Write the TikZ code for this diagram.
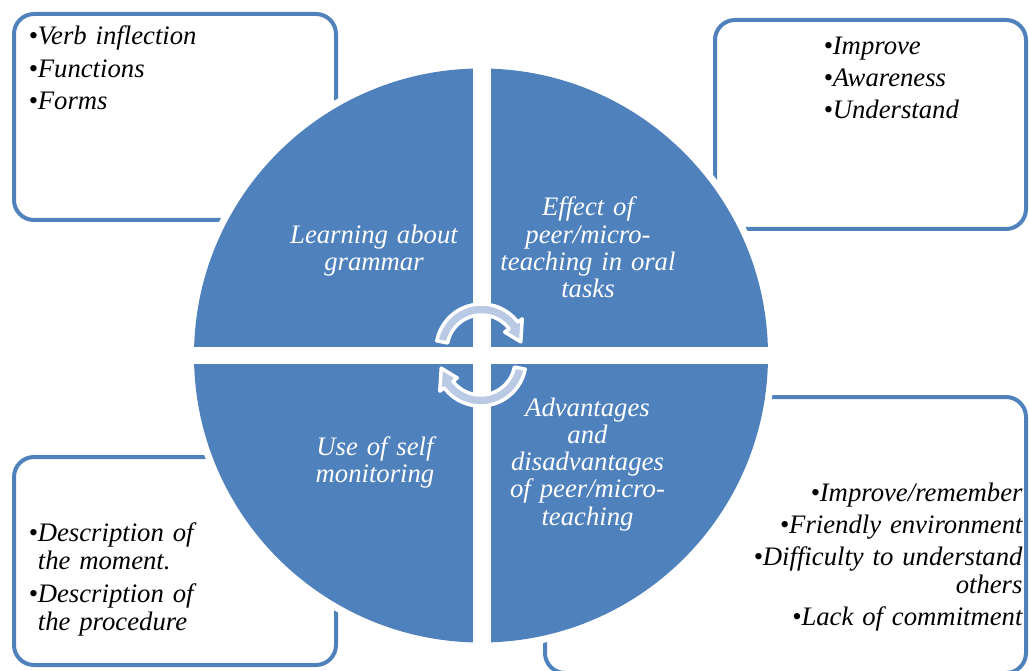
\documentclass[tikz,border=0pt]{standalone}
\usepackage{fontspec}
\setmainfont{Liberation Serif}
\usepackage{tikz}
\definecolor{quadblue}{RGB}{79,129,189}
\definecolor{arrowfill}{RGB}{186,201,228}

\begin{document}
\begin{tikzpicture}[x=1pt,y=-1pt,
   infobox/.style={draw=quadblue,line width=4pt,rounded corners=20pt,fill=white,inner sep=0pt},
   listtext/.style={font=\fontsize{26.7}{28}\selectfont\itshape,inner sep=0pt,text width=330pt},
   quadtext/.style={font=\fontsize{26.7}{27.3}\selectfont\itshape,text=white,inner sep=0pt,
      text width=220pt,align=center,anchor=base},
   cyclearrow/.style={fill=arrowfill,draw=white,line width=3.5pt,line join=round}]
\useasboundingbox (0,0) rectangle (1029,671);
\clip (0,0) rectangle (1029,671);

\node[infobox,minimum width=322pt,minimum height=206pt] (grammarbox) at (175,117) {};
\node[infobox,minimum width=311pt,minimum height=209pt] (effectbox) at (870.5,124.5) {};
\node[infobox,minimum width=322pt,minimum height=208pt] (monitorbox) at (175,561) {};
\node[infobox,minimum width=481pt,minimum height=276pt] (advantagebox) at (785.5,535) {};

\fill[white] (481,355.5) circle[radius=294];
\fill[quadblue] (481,355.5) circle[radius=287];
\fill[white] (190,347) rectangle (772,364);
\fill[white] (472.5,60) rectangle (490.5,650);

\foreach \cx/\cy/\a/\b/\t in {481.5/349.5/191/323/349, 480.5/360.5/11/143/169}
  \filldraw[cyclearrow] plot[domain=\a:\b,samples=30] ({\cx+45.5*cos(\x)},{\cy+45.5*sin(\x)})
    -- ({\cx+51*cos(\b)},{\cy+51*sin(\b)})
    -- ({\cx+40*cos(\t)},{\cy+40*sin(\t)})
    -- ({\cx+29*cos(\b)},{\cy+29*sin(\b)})
    -- plot[domain=\b:\a,samples=30] ({\cx+34.5*cos(\x)},{\cy+34.5*sin(\x)})
    -- cycle;

\node[quadtext] (grammar) at (374,243.3) {Learning about\\grammar};
\node[quadtext] (effect) at (588,216) {Effect of\\peer/micro-\\teaching in oral\\tasks};
\node[quadtext] (monitor) at (375,455) {Use of self\\monitoring};
\node[quadtext] (advantage) at (587.5,416) {Advantages\\and\\disadvantages\\of peer/micro-\\teaching};

\node[listtext,anchor=base west,align=left] (grammarlist) at (28.3,45)
   {•Verb inflection\\[4.5pt]•Functions\\[4.5pt]•Forms};
\node[listtext,anchor=base west,align=left] (effectlist) at (823.3,54.3)
   {•Improve\\[4pt]•Awareness\\[4pt]•Understand};
\node[listtext,anchor=base west,align=left] (monitorlist) at (28.3,541.7)
   {•Description of\\\phantom{•}the moment.\\[5pt]•Description of\\\phantom{•}the procedure};
\node[listtext,anchor=base east,align=right] (advantagelist) at (1022.7,501.7)
   {•Improve/remember\\[4pt]•Friendly environment\\[4pt]•Difficulty to understand\\others\\[4pt]•Lack of commitment};
\end{tikzpicture}
\end{document}
